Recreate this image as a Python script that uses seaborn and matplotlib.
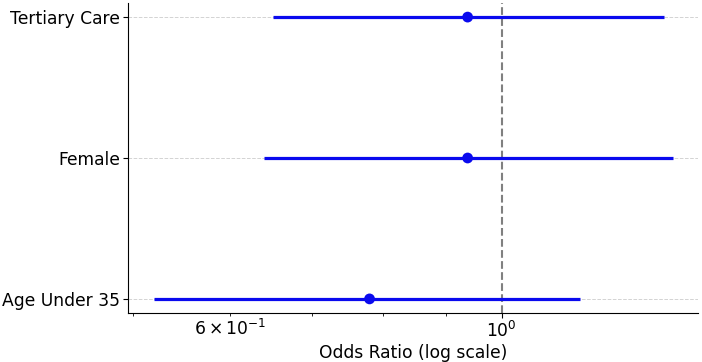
import matplotlib
matplotlib.use("Agg")
import matplotlib.pyplot as plt
import seaborn as sns
import pandas as pd
import numpy as np

categories = ["Age Under 35", "Female", "Tertiary Care"]
odds_ratio = [0.78, 0.938, 0.938]
ci_lower = [0.52, 0.639, 0.650]
ci_upper = [1.158, 1.379, 1.358]

df = pd.DataFrame({"cat": categories, "or": odds_ratio, "lo": ci_lower, "hi": ci_upper})
df["pos"] = np.arange(len(df))

sns.set_style("ticks", {"axes.edgecolor": "black", "xtick.color": "black",
                        "ytick.color": "black", "text.color": "black",
                        "axes.labelcolor": "black"})
plt.rcParams["font.family"] = ["DejaVu Sans"]

fig, ax = plt.subplots(figsize=(7.02, 3.62), dpi=100)
fig.subplots_adjust(left=128/702, right=0.995, top=1-3/362, bottom=1-313/362)

ax.hlines(df["pos"], df["lo"], df["hi"], color="#0a0aee", linewidth=2.3, zorder=3)
sns.scatterplot(data=df, x="or", y="pos", ax=ax, color="#0a0aee", s=60,
                edgecolor="none", zorder=4, legend=False)
ax.axvline(1.0, color="gray", linestyle="--", linewidth=1.5, zorder=2)
ax.set_xscale("log")
ax.set_yticks(df["pos"])
ax.set_yticklabels(df["cat"], fontsize=12.3)
ax.tick_params(axis="x", which="both", labelsize=12.3, pad=2)
ax.tick_params(axis="y", pad=2)
ax.grid(axis="y", linestyle="--", color="lightgray", linewidth=0.7, zorder=0)
ax.set_xlabel("Odds Ratio (log scale)", fontsize=12.3, labelpad=2)
ax.set_ylabel("")
sns.despine(ax=ax)
fig.savefig("out.png", dpi=100)
